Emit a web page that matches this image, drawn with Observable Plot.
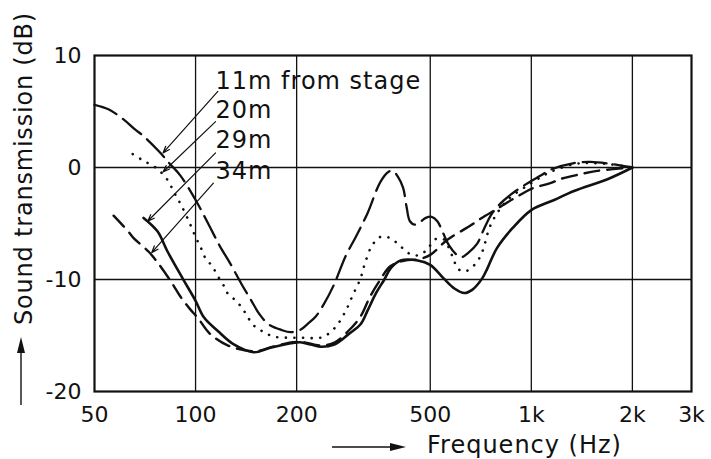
<!DOCTYPE html>
<html><head><meta charset="utf-8">
<script src="https://cdn.jsdelivr.net/npm/d3@7"></script>
<script src="https://cdn.jsdelivr.net/npm/@observablehq/plot@0.6"></script>
<style>body{margin:0;background:#fff} svg{display:block}</style>
</head><body><div id="chart"></div>
<script>
// ---- data (frequency in Hz, sound transmission in dB) ----
const freq11 = [50,55,61,66,70,78,84,90,100,109,118,127,137,146,155,165,180,192,205,215,228,241,258,280,300,325,355,375,387,400,415,425,435,450,465,485,505,525,545,570,600,620,650,690,720,760,810,870,940,1000,1070,1140,1340,1500,1700,2000];
const db11   = [5.6,5.2,4.3,3.4,2.8,1.4,0.3,-0.7,-2.9,-5.0,-7.0,-8.6,-10.4,-11.8,-13.1,-14.0,-14.5,-14.7,-14.5,-14.0,-13.3,-12.2,-10.5,-7.9,-6.2,-4.1,-1.3,-0.4,-0.3,-0.8,-1.8,-3.5,-4.8,-5.1,-4.9,-4.5,-4.4,-4.8,-5.8,-7.0,-7.8,-8.0,-7.6,-6.8,-5.6,-4.2,-3.2,-2.4,-1.7,-1.2,-0.7,-0.2,0.4,0.5,0.35,0];

const freq20 = [65,70,76,82,86.6,90,95.5,100,103.5,107,112,116.5,121.6,125,132,138,149,160,171,189,210,235,250,265,280,295,310,320,335,355,380,410,440,465,490,518,548,574,590,603,630,660,690,715,760,850,1000,1140,1340,1500,1700,2000];
const db20   = [1.2,0.6,0.0,-1.0,-2.3,-3.2,-4.8,-6.2,-7.1,-8.1,-8.8,-9.7,-10.6,-11.3,-11.9,-12.6,-14.1,-14.7,-15.1,-15.2,-15.2,-15.2,-14.8,-14.0,-12.8,-11.3,-9.9,-8.5,-7.0,-6.2,-6.3,-7.1,-7.8,-7.8,-7.3,-6.4,-6.4,-7.5,-8.4,-9.0,-9.3,-9.0,-8.4,-7.5,-5.0,-2.9,-1.4,-0.4,0.3,0.4,0.3,0];

const freq29 = [70,77,82.5,91.5,100,106,116.5,130,149,167,192,205,220,235,259,285,310,325,345,365,381,408,459,500,548,590,632,668,714,740,790,880,1000,1170,1340,1700,2000];
const db29   = [-4.5,-5.7,-7.5,-9.9,-11.9,-13.4,-14.6,-15.8,-16.5,-16.1,-15.7,-15.6,-15.8,-16.0,-15.8,-14.9,-14.0,-12.8,-11.2,-10.0,-9.0,-8.3,-8.3,-8.7,-9.9,-10.8,-11.2,-10.9,-9.9,-9.0,-7.2,-5.4,-3.8,-2.9,-2.1,-1.0,0];

const freq34 = [57,63,65.4,72.4,77.6,85.4,90,96,102,110,125,150,170,195,210,235,260,285,310,330,350,381,420,460,500,565,650,712,790,850,920,1000,1140,1230,1400,1570,2000];
const db34   = [-4.3,-5.7,-6.3,-7.5,-8.6,-10.4,-11.5,-12.6,-13.5,-14.8,-15.9,-16.4,-16.0,-15.6,-15.6,-15.9,-15.6,-14.6,-13.3,-11.6,-10.3,-8.8,-8.3,-8.2,-7.8,-6.4,-5.3,-4.5,-3.7,-3.1,-2.5,-1.9,-1.4,-1.0,-0.6,-0.3,0];

const seriesNames = ["11m","20m","29m","34m"];
const labelTexts  = ["11m from stage","20m","29m","34m"];
const labelFreq   = [114.7,114.7,114.7,114.7];
const labelDb     = [7.7,5.1,2.4,-0.3];
const leaderFromFreq = [116.5,114.7,114.7,113];
const leaderFromDb   = [6.8,4.1,1.3,-1.4];
const leaderToFreq   = [80,80,72,74];
const leaderToDb     = [1.3,-0.4,-4.8,-7.6];

const xTicks = [50,100,200,500,1000,2000,3000];
const xTickLabels = ["50","100","200","500","1k","2k","3k"];
const yTicks = [-20,-10,0,10];
const gridX = [100,200,500,1000,2000];
const gridY = [-10,0];
const xTitle = "Frequency (Hz)";
const yTitle = "Sound transmission (dB)";

// ---- build tables ----
const rows = (fs, ds, s) => fs.map((f, i) => ({f, db: ds[i], series: s}));
const d11 = rows(freq11, db11, "11m");
const d20 = rows(freq20, db20, "20m");
const d29 = rows(freq29, db29, "29m");
const d34 = rows(freq34, db34, "34m");
const labels = labelTexts.map((t, i) => ({t, f: labelFreq[i], db: labelDb[i]}));
const leaders = seriesNames.map((s, i) => ({x1: leaderFromFreq[i], y1: leaderFromDb[i], x2: leaderToFreq[i], y2: leaderToDb[i]}));

const FONT = "DejaVu Sans";
const W = 711, H = 459, ML = 94, MR = 20, MT = 55, MB = 68;

const chart = Plot.plot({
  width: W, height: H,
  marginLeft: ML, marginRight: MR, marginTop: MT, marginBottom: MB,
  style: {fontFamily: FONT, fontSize: "22px", color: "#111", background: "#fff"},
  x: {type: "log", domain: [50, 3000], ticks: xTicks,
      tickFormat: d => xTickLabels[xTicks.indexOf(d)], tickSize: 0, tickPadding: 15, label: null},
  y: {domain: [-20, 10], ticks: yTicks, tickFormat: d => String(d), tickSize: 0, tickPadding: 13, label: null},
  marks: [
    Plot.ruleX(gridX, {stroke: "#111", strokeWidth: 1.3}),
    Plot.ruleY(gridY, {stroke: "#111", strokeWidth: 1.3}),
    Plot.frame({stroke: "#111", strokeWidth: 2.2}),
    Plot.line(d11, {x: "f", y: "db", curve: "catmull-rom", stroke: "#111", strokeWidth: 2.3, strokeDasharray: "24,8"}),
    Plot.line(d20, {x: "f", y: "db", curve: "catmull-rom", stroke: "#111", strokeWidth: 2.6, strokeDasharray: "0.1,8.5", strokeLinecap: "round"}),
    Plot.line(d29, {x: "f", y: "db", curve: "catmull-rom", stroke: "#111", strokeWidth: 2.6}),
    Plot.line(d34, {x: "f", y: "db", curve: "catmull-rom", stroke: "#111", strokeWidth: 2.4, strokeDasharray: "15,8"}),
    Plot.arrow(leaders, {x1: "x1", y1: "y1", x2: "x2", y2: "y2", stroke: "#111", strokeWidth: 1.2, headLength: 9, headAngle: 40}),
    Plot.text(labels, {x: "f", y: "db", text: "t", textAnchor: "start", fontSize: 24, fill: "#111"})
  ]
});

const svg = d3.select(chart);
svg.selectAll('g[aria-label="text"] text').style("letter-spacing", "1px");

// axis titles with their arrows (decoration)
svg.append("text").attr("transform", "translate(32,325) rotate(-90)")
  .attr("text-anchor", "start")
  .attr("font-family", FONT).attr("font-size", 24).style("letter-spacing", "0.8px")
  .attr("fill", "#111").text(yTitle);
svg.append("line").attr("x1", 21).attr("x2", 21).attr("y1", 405).attr("y2", 350).attr("stroke", "#111").attr("stroke-width", 1.4);
svg.append("path").attr("d", "M21,337 L17,353 L25,353 Z").attr("fill", "#111");

svg.append("text").attr("x", 427).attr("y", 453)
  .attr("text-anchor", "start")
  .attr("font-family", FONT).attr("font-size", 24).style("letter-spacing", "1px")
  .attr("fill", "#111").text(xTitle);
svg.append("line").attr("x1", 332).attr("x2", 392).attr("y1", 447).attr("y2", 447).attr("stroke", "#111").attr("stroke-width", 1.4);
svg.append("path").attr("d", "M406,447 L390,443 L390,451 Z").attr("fill", "#111");

document.getElementById("chart").appendChild(chart);
</script>
</body></html>
